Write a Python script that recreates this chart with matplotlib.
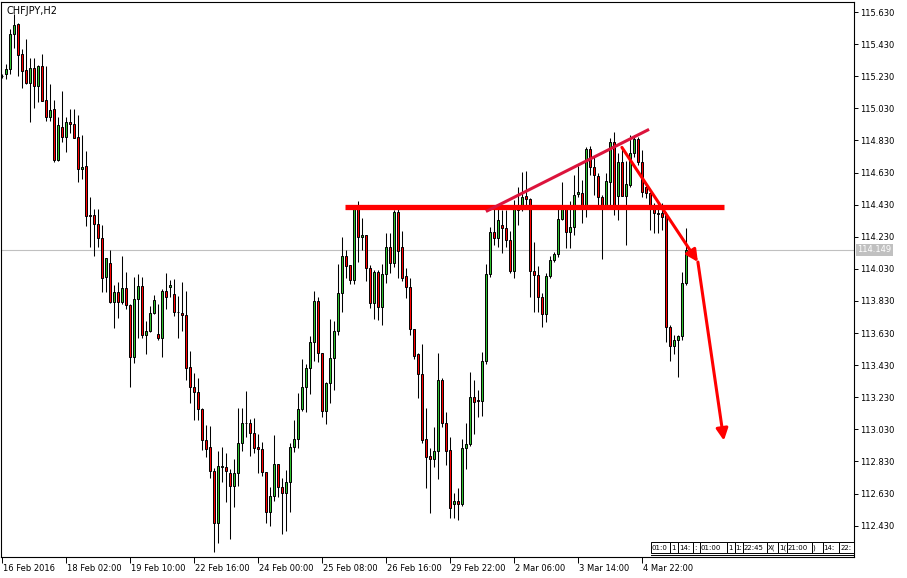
import matplotlib
matplotlib.use("Agg")
import matplotlib.pyplot as plt
import matplotlib.transforms as mtransforms
from matplotlib.patches import Rectangle

# --- données (CHFJPY H2) ---
opens = [115.230, 115.242, 115.273, 115.494, 115.554, 115.367, 115.267, 115.190, 115.280, 115.172,
         115.294, 115.080, 114.979, 115.024, 114.709, 114.912, 114.854, 114.943, 114.933, 114.850,
         114.650, 114.669, 114.364, 114.364, 114.308, 114.220, 113.982, 114.065, 113.826, 113.884,
         113.826, 113.909, 113.805, 113.483, 113.840, 113.923, 113.618, 113.643, 113.753, 113.622,
         113.597, 113.892, 113.917, 113.872, 113.759, 113.753, 113.740, 113.416, 113.292, 113.261,
         113.155, 112.962, 112.918, 112.768, 112.444, 112.793, 112.793, 112.760, 112.675, 112.756,
         112.943, 113.067, 113.067, 113.005, 112.920, 112.905, 112.762, 112.513, 112.613, 112.812,
         112.669, 112.631, 112.700, 112.918, 112.968, 113.159, 113.292, 113.410, 113.572, 113.828,
         113.504, 113.142, 113.321, 113.472, 113.641, 113.882, 114.108, 114.052, 113.958, 114.401,
         114.226, 114.239, 114.033, 113.815, 114.008, 113.790, 113.996, 114.166, 114.069, 114.382,
         114.164, 113.985, 113.919, 113.653, 113.499, 113.373, 112.968, 112.864, 112.843, 112.893,
         113.335, 113.067, 112.901, 112.567, 112.583, 112.563, 112.912, 112.937, 113.229, 113.213,
         113.209, 113.454, 113.996, 114.258, 114.220, 114.303, 114.282, 114.212, 114.019, 114.430,
         114.405, 114.484, 114.463, 114.019, 113.990, 113.852, 113.747, 113.985, 114.085, 114.120,
         114.341, 114.413, 114.262, 114.289, 114.496, 114.500, 114.421, 114.775, 114.667, 114.608,
         114.476, 114.428, 114.573, 114.818, 114.484, 114.694, 114.484, 114.552, 114.750, 114.837,
         114.698, 114.542, 114.500, 114.428, 114.376, 114.376, 114.365, 113.666, 113.551, 113.590,
         113.614, 113.940]
highs = [115.246, 115.305, 115.525, 115.618, 115.560, 115.400, 115.462, 115.342, 115.342, 115.300,
         115.367, 115.294, 115.182, 115.082, 114.976, 115.138, 114.974, 115.026, 115.024, 114.989,
         114.864, 114.765, 114.478, 114.401, 114.403, 114.303, 114.100, 114.148, 113.930, 113.950,
         114.112, 114.009, 113.809, 113.982, 113.996, 113.982, 113.705, 113.799, 113.867, 113.813,
         113.905, 114.007, 113.961, 113.967, 113.861, 113.948, 113.892, 113.518, 113.383, 113.350,
         113.161, 113.057, 113.049, 112.787, 112.893, 112.922, 112.880, 112.781, 112.843, 113.161,
         113.161, 113.269, 113.092, 113.101, 112.999, 112.951, 112.765, 112.669, 112.993, 112.815,
         112.725, 112.777, 112.943, 113.088, 113.254, 113.466, 113.435, 113.612, 113.892, 113.855,
         113.507, 113.325, 113.715, 113.703, 114.060, 114.228, 114.147, 114.056, 114.428, 114.453,
         114.345, 114.242, 114.054, 114.023, 114.023, 114.058, 114.251, 114.251, 114.397, 114.407,
         114.268, 114.033, 113.971, 113.656, 113.508, 113.560, 113.161, 112.916, 113.042, 113.504,
         113.352, 113.140, 112.980, 112.635, 112.662, 112.968, 113.067, 113.385, 113.337, 113.275,
         113.510, 114.060, 114.293, 114.417, 114.407, 114.397, 114.397, 114.266, 114.459, 114.540,
         114.635, 114.640, 114.470, 114.199, 114.050, 113.880, 114.002, 114.110, 114.137, 114.428,
         114.569, 114.428, 114.453, 114.615, 114.673, 114.584, 114.791, 114.795, 114.729, 114.625,
         114.490, 114.625, 114.843, 114.881, 114.750, 114.791, 114.700, 114.864, 114.864, 114.854,
         114.770, 114.560, 114.510, 114.440, 114.440, 114.438, 114.386, 113.680, 113.620, 113.620,
         114.012, 114.282]
lows = [115.217, 115.213, 115.246, 115.404, 115.232, 115.155, 115.184, 114.947, 115.035, 115.068,
        115.076, 114.952, 114.952, 114.694, 114.704, 114.823, 114.760, 114.875, 114.848, 114.574,
        114.590, 114.299, 114.164, 114.108, 114.164, 113.884, 113.884, 113.820, 113.664, 113.722,
        113.813, 113.780, 113.296, 113.446, 113.601, 113.601, 113.502, 113.635, 113.747, 113.587,
        113.483, 113.780, 113.857, 113.739, 113.601, 113.645, 113.339, 113.196, 113.090, 113.090,
        112.899, 112.860, 112.729, 112.268, 112.324, 112.704, 112.579, 112.349, 112.548, 112.679,
        112.897, 112.984, 112.866, 112.885, 112.756, 112.737, 112.448, 112.430, 112.586, 112.610,
        112.376, 112.399, 112.513, 112.887, 112.916, 113.142, 113.140, 113.248, 113.456, 113.452,
        113.109, 113.061, 113.196, 113.275, 113.616, 113.763, 113.975, 113.936, 113.936, 114.075,
        114.147, 113.956, 113.784, 113.717, 113.711, 113.682, 113.940, 114.006, 114.044, 113.971,
        113.956, 113.850, 113.618, 113.468, 113.223, 112.947, 112.662, 112.511, 112.797, 112.718,
        113.047, 112.808, 112.475, 112.475, 112.465, 112.552, 112.781, 112.926, 112.999, 113.109,
        113.115, 113.437, 113.977, 114.179, 114.168, 114.131, 114.164, 114.002, 113.971, 114.303,
        114.390, 114.428, 113.852, 113.763, 113.763, 113.670, 113.701, 113.971, 114.075, 114.106,
        114.334, 114.158, 114.158, 114.241, 114.480, 114.314, 114.355, 114.615, 114.490, 114.421,
        114.089, 114.407, 114.407, 114.365, 114.334, 114.484, 114.178, 114.540, 114.730, 114.680,
        114.480, 114.470, 114.272, 114.251, 114.251, 114.272, 113.576, 113.458, 113.500, 113.354,
        113.590, 113.930]
closes = [115.234, 115.273, 115.492, 115.550, 115.361, 115.265, 115.190, 115.280, 115.172, 115.294,
          115.078, 114.979, 115.018, 114.711, 114.925, 114.854, 114.943, 114.931, 114.848, 114.650,
          114.667, 114.357, 114.362, 114.308, 114.220, 113.975, 114.096, 113.826, 113.884, 113.826,
          113.909, 113.805, 113.483, 113.840, 113.923, 113.618, 113.643, 113.753, 113.834, 113.597,
          113.892, 113.857, 113.930, 113.759, 113.759, 113.740, 113.414, 113.292, 113.261, 113.155,
          112.962, 112.905, 112.768, 112.444, 112.799, 112.799, 112.768, 112.675, 112.756, 112.943,
          113.067, 113.067, 113.005, 112.912, 112.905, 112.762, 112.513, 112.613, 112.812, 112.669,
          112.631, 112.700, 112.918, 112.968, 113.159, 113.292, 113.410, 113.572, 113.828, 113.504,
          113.142, 113.321, 113.472, 113.641, 113.877, 114.108, 114.050, 113.958, 114.401, 114.226,
          114.239, 114.033, 113.815, 114.008, 113.790, 113.996, 114.166, 114.069, 114.382, 114.143,
          113.971, 113.919, 113.653, 113.489, 113.373, 112.964, 112.860, 112.843, 112.893, 113.335,
          113.067, 112.897, 112.538, 112.583, 112.563, 112.912, 112.937, 113.229, 113.202, 113.209,
          113.454, 113.996, 114.258, 114.220, 114.332, 114.282, 114.212, 114.019, 114.428, 114.400,
          114.480, 114.463, 114.019, 113.990, 113.852, 113.747, 113.985, 114.085, 114.120, 114.341,
          114.413, 114.262, 114.289, 114.490, 114.507, 114.421, 114.775, 114.667, 114.615, 114.476,
          114.428, 114.577, 114.818, 114.428, 114.694, 114.484, 114.557, 114.750, 114.837, 114.698,
          114.511, 114.500, 114.428, 114.376, 114.372, 114.355, 113.666, 113.551, 113.590, 113.614,
          113.940, 114.149]

date_labels = ["16 Feb 2016", "18 Feb 02:00", "19 Feb 10:00", "22 Feb 16:00", "24 Feb 00:00",
               "25 Feb 08:00", "26 Feb 16:00", "29 Feb 22:00", "2 Mar 06:00", "3 Mar 14:00",
               "4 Mar 22:00"]
bars_per_label = 16
price_ticks = [115.630, 115.430, 115.230, 115.030, 114.830, 114.630, 114.430, 114.230,
               114.030, 113.830, 113.630, 113.430, 113.230, 113.030, 112.830, 112.630, 112.430]
last_price = 114.149

# tracés manuels (barre, prix)
resistance = ((85.7, 114.415), (180.4, 114.415))
trend_line = ((121.25, 114.392), (161.35, 114.895))
arrow_path = [(154.9, 114.787), (173.9, 114.073), (180.4, 112.960)]

# étiquettes de temps superposées et tronquées (artefact MT4) : (barre début, barre fin, texte)
junk_boxes = [(162.1, 166.9, "01:0"), (166.9, 168.9, "1"), (168.9, 172.6, "14:"),
              (172.6, 174.4, ":"), (174.4, 181.2, "01:00"), (181.2, 183.1, "1"),
              (183.1, 185.1, "1:"), (185.1, 191.2, "22:45"), (191.2, 193.9, "X("),
              (193.9, 196.1, "1("), (196.1, 202.4, "21:00"), (202.4, 205.1, ")"),
              (205.1, 209.2, "14:"), (209.2, 212.8, "22:")]

GREEN = "#2ec12e"
RED = "#ff0000"

W, H = 907, 578
fig = plt.figure(figsize=(W / 100, H / 100), dpi=100)
ax = fig.add_axes([0.5 / W, (H - 557.3) / H, 853.8 / W, 555.0 / H])

n = len(closes)
xs = list(range(n))

# mèches puis corps
ax.vlines(xs, lows, highs, color="black", linewidth=0.75, zorder=2)
for i in xs:
    o, c = opens[i], closes[i]
    col = GREEN if c >= o else RED
    ax.bar(i, abs(c - o), bottom=min(o, c), width=0.55, color=col,
           edgecolor="black", linewidth=0.7, zorder=3)

# prix courant
ax.axhline(last_price, color="#c0c0c0", linewidth=0.8, zorder=1)

# lignes dessinées
ax.plot([p[0] for p in resistance], [p[1] for p in resistance], color="#ff0000",
        linewidth=3.8, solid_capstyle="butt", zorder=5)
ax.plot([p[0] for p in trend_line], [p[1] for p in trend_line], color="#dc143c",
        linewidth=2.2, zorder=5)
for (x0, y0), (x1, y1) in zip(arrow_path[:-1], arrow_path[1:]):
    ax.annotate("", xy=(x1, y1), xytext=(x0, y0),
                arrowprops=dict(arrowstyle="-|>,head_length=0.7,head_width=0.35",
                                color="#ff0000", linewidth=2.2, shrinkA=0, shrinkB=0),
                zorder=6)

ax.set_xlim(-0.45, 213.0)
ax.set_ylim(112.233, 115.691)

# axes façon MetaTrader
for s in ax.spines.values():
    s.set_linewidth(0.8)
    s.set_color("black")
ax.yaxis.tick_right()
ax.set_yticks(price_ticks)
ax.set_yticklabels([f"{p:.3f}" for p in price_ticks])
ax.tick_params(axis="y", direction="out", length=3, width=0.7, pad=1, labelsize=6)

tick_pos = [k * bars_per_label for k in range(len(date_labels))]
ax.set_xticks(tick_pos)
ax.set_xticklabels(date_labels)
ax.tick_params(axis="x", direction="out", length=4.3, width=0.7, pad=0.5, labelsize=6)
offset = mtransforms.ScaledTranslation(1 / 100, 0, fig.dpi_scale_trans)
for lab in ax.get_xticklabels():
    lab.set_horizontalalignment("left")
    lab.set_transform(lab.get_transform() + offset)

# étiquette du dernier prix
ax.text(1.0035, last_price, f"{last_price:.3f}", transform=ax.get_yaxis_transform(),
        ha="left", va="center", fontsize=6, color="white",
        bbox=dict(boxstyle="square,pad=0.15", facecolor="#c0c0c0", edgecolor="none"))

# titre du symbole
ax.text(5.5 / 853.8, 1 - 9 / 555.0, "CHFJPY,H2", transform=ax.transAxes,
        ha="left", va="center", fontsize=7, color="black")

# petites étiquettes superposées en bas à droite
blend = mtransforms.blended_transform_factory(ax.transData, ax.transAxes)
y0 = 4.3 / 555.0
hbox = 11 / 555.0
for x0, x1, txt in junk_boxes:
    r = Rectangle((x0, y0), x1 - x0, hbox, transform=blend, facecolor="white",
                  edgecolor="black", linewidth=0.7, zorder=7)
    ax.add_patch(r)
    t = ax.text(x0 + 0.25, y0 + hbox / 2, txt, transform=blend, ha="left", va="center",
                fontsize=5, zorder=8)
    t.set_clip_path(r)
ax.plot([162.1, 212.9], [y0 - 1.5 / 555.0] * 2, transform=blend, color="black",
        linewidth=0.7, zorder=7)

fig.savefig("out.png", dpi=100)
